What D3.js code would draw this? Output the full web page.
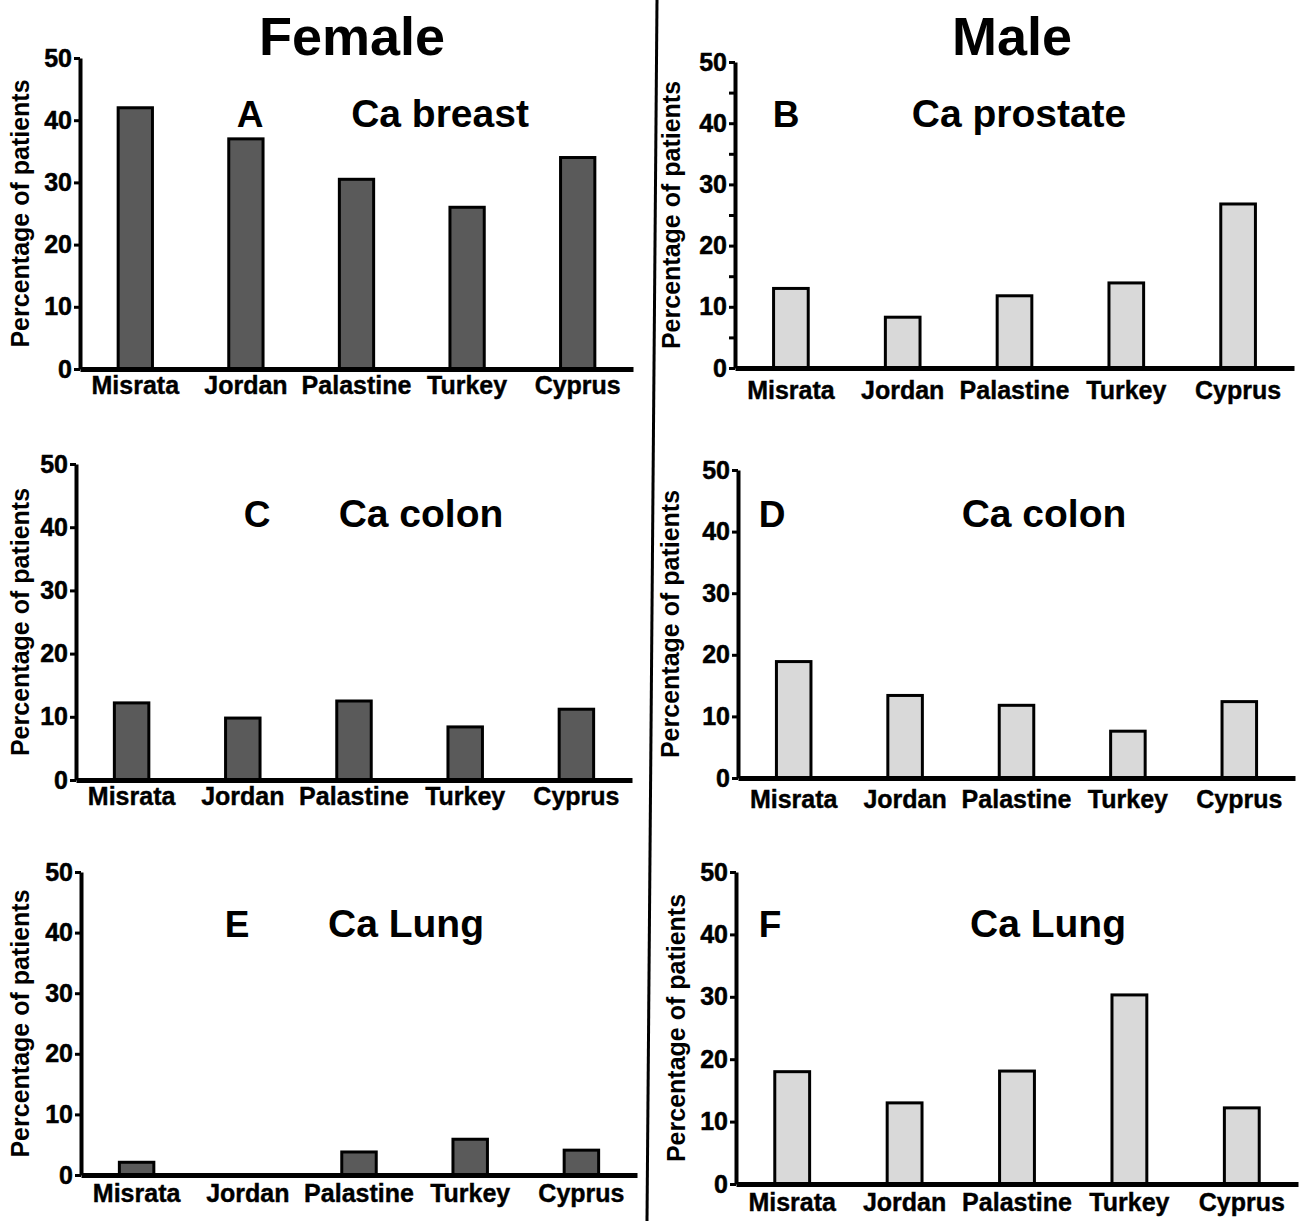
<!DOCTYPE html>
<html>
<head>
<meta charset="utf-8">
<script src="https://cdn.jsdelivr.net/npm/d3@7"></script>
<style>
  body { margin: 0; background: #fff; }
  svg { display: block; font-family: "Liberation Sans", Arial, Helvetica, sans-serif; }
</style>
</head>
<body>
<div id="chart"></div>
<script>
// data (percentage of patients)
const countries = ["Misrata", "Jordan", "Palastine", "Turkey", "Cyprus"];
const breastFemale   = [42, 37, 30.5, 26, 34];
const prostateMale   = [13, 8.3, 11.8, 13.9, 26.8];
const colonFemale    = [12.2, 9.8, 12.5, 8.4, 11.2];
const colonMale      = [18.9, 13.4, 11.8, 7.6, 12.4];
const lungFemale     = [2.1, 0, 3.8, 5.9, 4.1];
const lungMale       = [18, 13, 18.1, 30.3, 12.2];
const yTicks = [0, 10, 20, 30, 40, 50];
const yMinorTicks = [5, 15, 25, 35, 45];

const width = 1315, height = 1221;
const femaleFill = "#5a5a5a", maleFill = "#d9d9d9";

// panel layout (pixel positions only)
var panels = [
  {letter: "A", title: "Ca breast",   values: breastFemale, fill: femaleFill,
   x0: 80,  x1: 633,  y0: 369,  y50: 58,  letterX: 250, titleX: 440,  textY: 127, yTitleX: 29,  labelDy: 25, minor: false},
  {letter: "B", title: "Ca prostate", values: prostateMale, fill: maleFill,
   x0: 735, x1: 1294, y0: 368,  y50: 62,  letterX: 786, titleX: 1019, textY: 127, yTitleX: 680, labelDy: 31, minor: true},
  {letter: "C", title: "Ca colon",    values: colonFemale,  fill: femaleFill,
   x0: 76,  x1: 632,  y0: 780,  y50: 464, letterX: 257, titleX: 421,  textY: 527, yTitleX: 29,  labelDy: 25, minor: false},
  {letter: "D", title: "Ca colon",    values: colonMale,    fill: maleFill,
   x0: 738, x1: 1295, y0: 778,  y50: 470, letterX: 772, titleX: 1044, textY: 527, yTitleX: 679, labelDy: 30, minor: false},
  {letter: "E", title: "Ca Lung",     values: lungFemale,   fill: femaleFill,
   x0: 81,  x1: 637,  y0: 1175, y50: 872, letterX: 237, titleX: 406,  textY: 937, yTitleX: 29,  labelDy: 27, minor: false},
  {letter: "F", title: "Ca Lung",     values: lungMale,     fill: maleFill,
   x0: 736, x1: 1298, y0: 1184, y50: 872, letterX: 770, titleX: 1048, textY: 937, yTitleX: 685, labelDy: 27, minor: false}
];

const svg = d3.select('#chart').append('svg')
	.attr('width', width)
	.attr('height', height);

svg.append('rect')
	.attr('width', width)
	.attr('height', height)
	.attr('fill', '#fff');

// column headings
svg.append('text')
	.attr('x', 352).attr('y', 55)
	.attr('text-anchor', 'middle')
	.attr('font-size', 54).attr('font-weight', 'bold')
	.text('Female');
svg.append('text')
	.attr('x', 1012).attr('y', 55)
	.attr('text-anchor', 'middle')
	.attr('font-size', 54).attr('font-weight', 'bold')
	.text('Male');

// divider between the two columns
svg.append('line')
	.attr('x1', 657).attr('y1', 0)
	.attr('x2', 647).attr('y2', height)
	.attr('stroke', '#000')
	.attr('stroke-width', 3);

function drawPanel(p) {
	var g = svg.append('g');

	var x = d3.scaleBand()
		.domain(countries)
		.range([p.x0, p.x1])
		.paddingInner(0.69)
		.paddingOuter(0.345);

	var y = d3.scaleLinear()
		.domain([0, 50])
		.range([p.y0, p.y50]);

	// bars
	g.selectAll('rect.bar')
		.data(p.values)
		.enter()
		.append('rect')
		.attr('class', 'bar')
		.attr('x', (d, i) => x(countries[i]))
		.attr('y', d => y(d))
		.attr('width', x.bandwidth())
		.attr('height', d => y(0) - y(d))
		.attr('fill', p.fill)
		.attr('stroke', d => d > 0 ? '#000' : 'none')
		.attr('stroke-width', 3);

	// y axis
	var yAxis = g.append('g')
		.attr('transform', 'translate(' + p.x0 + ',0)')
		.call(d3.axisLeft(y).tickValues(yTicks).tickSize(6).tickSizeOuter(0).tickPadding(2));
	if (p.minor) {
		g.append('g')
			.attr('transform', 'translate(' + p.x0 + ',0)')
			.call(d3.axisLeft(y).tickValues(yMinorTicks).tickSize(6).tickFormat(''))
			.call(a => a.select('.domain').remove())
			.selectAll('line').attr('stroke-width', 3);
	}
	yAxis.select('.domain').attr('stroke-width', 4);
	yAxis.selectAll('.tick line').attr('stroke-width', 3);
	yAxis.selectAll('.tick text')
		.attr('font-size', 25)
		.attr('font-weight', 'bold')
		.attr('font-family', '"Liberation Sans", Arial, sans-serif')
		.attr('fill', '#000')
		.attr('stroke', '#000')
		.attr('stroke-width', 0.5);

	// x axis
	var xAxis = g.append('g')
		.attr('transform', 'translate(0,' + p.y0 + ')')
		.call(d3.axisBottom(x).tickSize(0).tickSizeOuter(0).tickPadding(0));
	xAxis.select('.domain').attr('stroke-width', 5);
	xAxis.selectAll('.tick text')
		.attr('y', p.labelDy)
		.attr('dy', 0)
		.attr('font-size', 25)
		.attr('font-weight', 'bold')
		.attr('font-family', '"Liberation Sans", Arial, sans-serif')
		.attr('fill', '#000')
		.attr('stroke', '#000')
		.attr('stroke-width', 0.4);

	// y axis title
	g.append('text')
		.attr('transform', 'translate(' + p.yTitleX + ',' + ((p.y0 + p.y50) / 2) + ') rotate(-90)')
		.attr('text-anchor', 'middle')
		.attr('font-size', 25)
		.attr('font-weight', 'bold')
		.text('Percentage of patients');

	// panel letter and title
	g.append('text')
		.attr('x', p.letterX).attr('y', p.textY)
		.attr('text-anchor', 'middle')
		.attr('font-size', 37).attr('font-weight', 'bold')
		.text(p.letter);
	g.append('text')
		.attr('x', p.titleX).attr('y', p.textY)
		.attr('text-anchor', 'middle')
		.attr('font-size', 39).attr('font-weight', 'bold')
		.text(p.title);
}

panels.forEach(drawPanel);
</script>
</body>
</html>
